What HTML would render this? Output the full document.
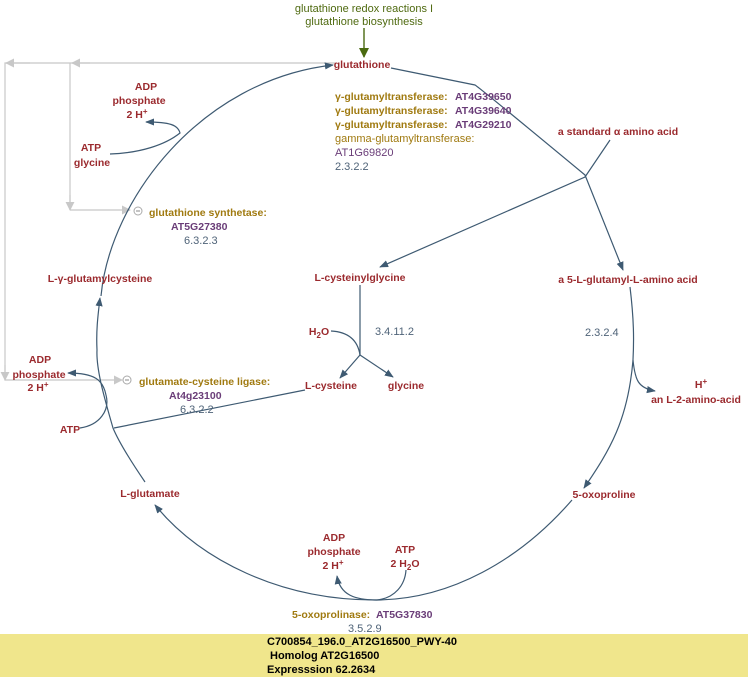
<!DOCTYPE html>
<html><head><meta charset="utf-8"><style>
html,body{margin:0;padding:0;background:#fff;width:748px;height:677px;overflow:hidden}
svg{display:block}
text{font-family:"Liberation Sans",Arial,sans-serif;font-size:11px}
.m{fill:#9b2a2e;font-weight:bold;text-anchor:middle;font-size:10.5px}
.e{fill:#a07a10;font-weight:bold;font-size:10.5px}
.g{fill:#6a3d78;font-weight:bold;font-size:10.5px}
.ec{fill:#4f6378}
.l{fill:none;stroke:#3e5a72;stroke-width:1.2}
.gr{fill:none;stroke:#c8c8c8;stroke-width:1.2}
</style></head><body>
<svg width="748" height="677" viewBox="0 0 748 677" xmlns="http://www.w3.org/2000/svg">
<defs>
<marker id="a" viewBox="0 0 10 10" refX="9" refY="5" markerWidth="9" markerHeight="9" markerUnits="userSpaceOnUse" orient="auto"><path d="M0,1L10,5L0,9z" fill="#3e5a72"/></marker>
<marker id="ga" viewBox="0 0 10 10" refX="9" refY="5" markerWidth="9" markerHeight="9" markerUnits="userSpaceOnUse" orient="auto"><path d="M0,0L10,5L0,10z" fill="#c8c8c8"/></marker>
<marker id="gn" viewBox="0 0 10 10" refX="9" refY="5" markerWidth="10" markerHeight="10" markerUnits="userSpaceOnUse" orient="auto"><path d="M0,0L10,5L0,10z" fill="#4a6a10"/></marker>
</defs>

<text x="364" y="12" fill="#4f6a10" text-anchor="middle">glutathione redox reactions I</text>
<text x="364" y="25" fill="#4f6a10" text-anchor="middle">glutathione biosynthesis</text>
<line x1="364" y1="28" x2="364" y2="57" stroke="#4a6a10" stroke-width="1.4" marker-end="url(#gn)"/>

<polyline class="gr" points="335,63 5,63 5,380 118,380"/>
<line class="gr" x1="70" y1="63" x2="70" y2="210"/>
<line class="gr" x1="70" y1="210" x2="130" y2="210" marker-end="url(#ga)"/>
<line class="gr" x1="120" y1="380" x2="122" y2="380" marker-end="url(#ga)"/>
<line class="gr" x1="30" y1="63" x2="6" y2="63" marker-end="url(#ga)"/>
<line class="gr" x1="90" y1="63" x2="72" y2="63" marker-end="url(#ga)"/>
<line class="gr" x1="70" y1="195" x2="70" y2="210" marker-end="url(#ga)"/>
<line class="gr" x1="5" y1="365" x2="5" y2="380" marker-end="url(#ga)"/>
<circle cx="138" cy="211" r="4" fill="#fff" stroke="#aaa"/><line x1="136" y1="211" x2="140" y2="211" stroke="#888"/>
<circle cx="127" cy="380" r="4" fill="#fff" stroke="#aaa"/><line x1="125" y1="380" x2="129" y2="380" stroke="#888"/>

<path class="l" d="M101,296 C110,200 200,80 333,65" marker-end="url(#a)"/>
<path class="l" d="M391,68 L475,85 Q480,88 585,175 L623,270" marker-end="url(#a)"/>
<path class="l" d="M630,287 C634,320 634,340 633,360 C628,420 610,450 584,488" marker-end="url(#a)"/>
<path class="l" d="M633,360 C635,380 638,388 655,391" marker-end="url(#a)"/>
<path class="l" d="M572,500 C520,560 450,600 375,600 C280,600 200,560 155,505" marker-end="url(#a)"/>
<path class="l" d="M145,482 C130,460 118,440 113,428 C105,400 96,370 97,350 C96,330 98,315 100,298" marker-end="url(#a)"/>
<path class="l" d="M110,154 C140,153 165,145 180,133 C178,125 170,122 146,122" marker-end="url(#a)"/>
<path class="l" d="M80,428 C100,425 110,410 106,395 C103,380 95,373 68,373" marker-end="url(#a)"/>
<path class="l" d="M406,570 C405,585 395,598 377,600 C355,600 340,595 337,576" marker-end="url(#a)"/>
<path class="l" d="M610,140 L585,177 L380,267" marker-end="url(#a)"/>
<line class="l" x1="360" y1="285" x2="360" y2="355"/>
<path class="l" d="M360,355 L340,378" marker-end="url(#a)"/>
<path class="l" d="M360,355 L393,377" marker-end="url(#a)"/>
<path class="l" d="M331,331 C350,332 358,342 360,355"/>
<line class="l" x1="305" y1="390" x2="114" y2="428"/>

<text class="m" x="362" y="68">glutathione</text>
<text class="m" x="146" y="90">ADP</text>
<text class="m" x="139" y="104">phosphate</text>
<text class="m" x="137" y="118">2 H<tspan font-size="8" dy="-4">+</tspan></text>
<text class="m" x="91" y="151">ATP</text>
<text class="m" x="92" y="166">glycine</text>
<text class="m" x="100" y="282">L-γ-glutamylcysteine</text>
<text class="m" x="360" y="281">L-cysteinylglycine</text>
<text class="m" x="628" y="283">a 5-L-glutamyl-L-amino acid</text>
<text class="m" x="618" y="135">a standard α amino acid</text>
<text class="m" x="319" y="335">H<tspan font-size="8" dy="3">2</tspan><tspan dy="-3">O</tspan></text>
<text class="m" x="331" y="389">L-cysteine</text>
<text class="m" x="406" y="389">glycine</text>
<text class="m" x="701" y="388">H<tspan font-size="8" dy="-4">+</tspan></text>
<text class="m" x="696" y="403">an L-2-amino-acid</text>
<text class="m" x="40" y="363">ADP</text>
<text class="m" x="39" y="378">phosphate</text>
<text class="m" x="38" y="391">2 H<tspan font-size="8" dy="-4">+</tspan></text>
<text class="m" x="70" y="433">ATP</text>
<text class="m" x="150" y="497">L-glutamate</text>
<text class="m" x="604" y="498">5-oxoproline</text>
<text class="m" x="334" y="541">ADP</text>
<text class="m" x="334" y="555">phosphate</text>
<text class="m" x="333" y="569">2 H<tspan font-size="8" dy="-4">+</tspan></text>
<text class="m" x="405" y="553">ATP</text>
<text class="m" x="405" y="567">2 H<tspan font-size="8" dy="3">2</tspan><tspan dy="-3">O</tspan></text>

<text class="e" x="149" y="216">glutathione synthetase:</text>
<text class="g" x="171" y="230">AT5G27380</text>
<text class="ec" x="184" y="244">6.3.2.3</text>

<text class="e" x="335" y="100">γ-glutamyltransferase:</text><text class="g" x="455" y="100">AT4G39650</text>
<text class="e" x="335" y="114">γ-glutamyltransferase:</text><text class="g" x="455" y="114">AT4G39640</text>
<text class="e" x="335" y="128">γ-glutamyltransferase:</text><text class="g" x="455" y="128">AT4G29210</text>
<text x="335" y="142" fill="#a07a10">gamma-glutamyltransferase:</text>
<text x="335" y="156" fill="#6a3d78">AT1G69820</text>
<text class="ec" x="335" y="170">2.3.2.2</text>

<text class="ec" x="375" y="335">3.4.11.2</text>
<text class="ec" x="585" y="336">2.3.2.4</text>

<text class="e" x="139" y="385">glutamate-cysteine ligase:</text>
<text class="g" x="169" y="399">At4g23100</text>
<text class="ec" x="180" y="413">6.3.2.2</text>

<text class="e" x="292" y="618">5-oxoprolinase:</text><text class="g" x="376" y="618">AT5G37830</text>
<text class="ec" x="348" y="632">3.5.2.9</text>

<rect x="0" y="634" width="748" height="43" fill="#f0e68c"/>
<text x="267" y="645" font-weight="bold" font-size="12" fill="#000">C700854_196.0_AT2G16500_PWY-40</text>
<text x="270" y="659" font-weight="bold" font-size="12" fill="#000">Homolog AT2G16500</text>
<text x="267" y="673" font-weight="bold" font-size="12" fill="#000">Expresssion 62.2634</text>
</svg>
</body></html>
